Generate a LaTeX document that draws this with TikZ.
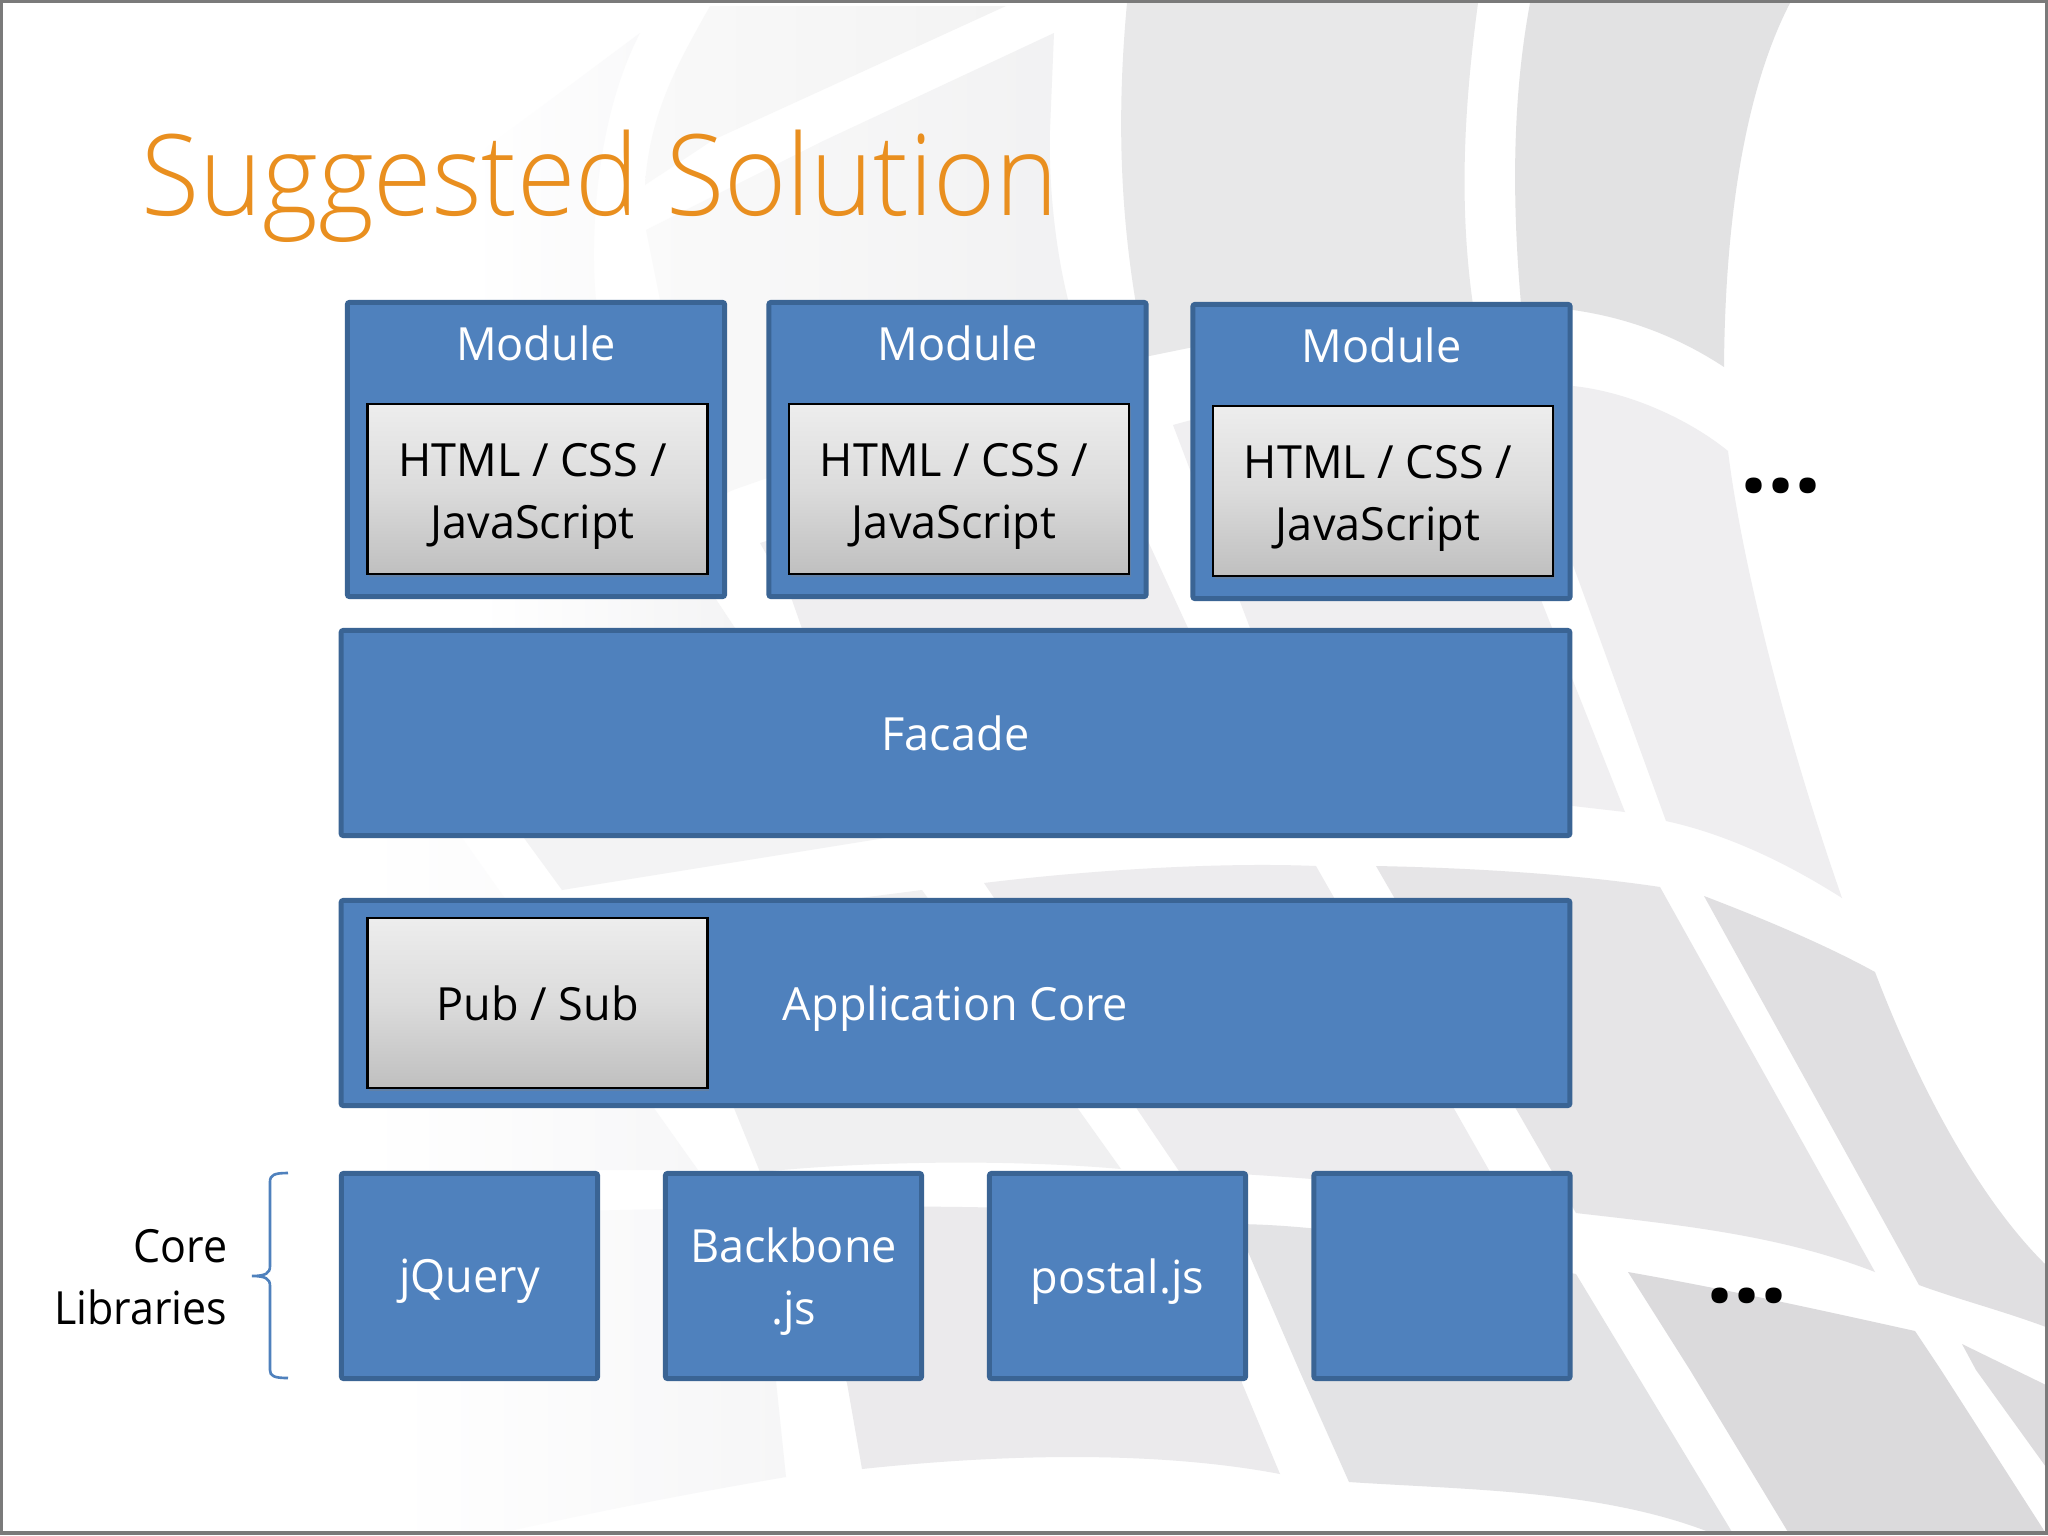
\documentclass[tikz,border=0pt]{standalone}
\usepackage{fontspec}
\setmainfont{Open Sans}
\newfontfamily\ttlfont[FakeStretch=0.945]{Open Sans Light}
\usetikzlibrary{shadows}
\definecolor{blockfill}{HTML}{4F81BD}
\definecolor{blockline}{HTML}{3A6494}
\definecolor{titleorange}{HTML}{E98F1F}
\definecolor{framegray}{HTML}{7A7A7A}
\tikzset{
  block/.style={draw=blockline,fill=blockfill,line width=1.42pt,rounded corners=0.6pt,inner sep=0pt,text=white,align=center,font=\bodyfont,text depth=0pt},
  techbox/.style={draw=black,line width=0.75pt,top color=gray!14,bottom color=gray!50,middle color=gray!28,inner sep=0pt,align=center,font=\bodyfont,
    drop shadow={shadow xshift=0.5pt,shadow yshift=-0.7pt,opacity=.35}},
  lbl/.style={inner sep=0pt,align=center,font=\bodyfont},
  sidelbl/.style={inner sep=0pt,align=right,font=\sidefont},
  dotsmark/.style={inner sep=0pt,font=\dotsfont},
  wm/.style={draw=none}
}
\newcommand\bodyfont{\addfontfeature{FakeStretch=0.985}\fontsize{13pt}{17.6pt}\selectfont}
\newcommand\sidefont{\addfontfeature{FakeStretch=0.94}\fontsize{13pt}{17.6pt}\selectfont}
\newcommand\dotsfont{\bfseries\fontsize{27pt}{27pt}\selectfont}
\begin{document}
\begin{tikzpicture}[x=0.01cm,y=-0.01cm]
\useasboundingbox (0,0) rectangle (2048,1536);
\fill[white] (0,0) rectangle (2048,1536);
% watermark, upper part
\fill[wm,fill={rgb,255:red,226;green,226;blue,227}] (1530,3) -- (1790,3) .. controls (1745,90) and (1725,220) .. (1724,367) .. controls (1680,338) and (1630,318) .. (1573,310) -- (1521,304) .. controls (1512,200) and (1512,100) .. (1530,3) -- cycle;
\fill[wm,fill={rgb,255:red,232;green,232;blue,233}] (1127,3) -- (1478,3) .. controls (1465,100) and (1458,200) .. (1473,305) .. controls (1360,315) and (1250,335) .. (1140,358) -- (1137,310) .. controls (1118,200) and (1118,100) .. (1127,3) -- cycle;
\shade[wm,left color={rgb,255:red,250;green,250;blue,250},right color={rgb,255:red,241;green,241;blue,242}] (1054,33) -- (1050,130) .. controls (1048,200) and (1060,300) .. (1090,365) -- (733,490) -- (670,520) -- (660,300) -- (646,230) -- (821,142) -- cycle;
\shade[wm,left color={rgb,255:red,249;green,249;blue,249},right color={rgb,255:red,243;green,243;blue,243}] (710,6) -- (1006,6) -- (713,140) -- (645,185) .. controls (650,110) and (680,60) .. (710,6) -- cycle;
\shade[wm,left color=white,right color={rgb,255:red,249;green,249;blue,250}] (640,33) -- (470,160) -- (480,300) -- (596,300) .. controls (590,240) and (595,120) .. (640,33) -- cycle;
\shade[wm,left color=white,right color={rgb,255:red,244;green,244;blue,245}] (480,560) -- (690,560) -- (735,628) -- (735,640) -- (480,640) -- cycle;
\fill[wm,fill={rgb,255:red,239;green,238;blue,240}] (760,543) -- (1100,437) -- (1188,628) -- (1188,640) -- (806,640) -- (792,600) -- cycle;
\fill[wm,fill={rgb,255:red,240;green,239;blue,241}] (1173,425) .. controls (1280,395) and (1400,380) .. (1515,380) -- (1541,600) -- (1625,812) -- (1573,806) -- (1250,790) -- (1250,628) -- cycle;
\fill[wm,fill={rgb,255:red,239;green,238;blue,240}] (1573,386) .. controls (1630,392) and (1690,420) .. (1728,451) .. controls (1740,550) and (1780,720) .. (1842,898) .. controls (1790,865) and (1730,835) .. (1666,821) -- (1573,565) -- cycle;
% middle row
\shade[wm,left color=white,right color={rgb,255:red,247;green,247;blue,248}] (366,838) -- (462,838) -- (698,1170) -- (366,1170) -- cycle;
\fill[wm,fill={rgb,255:red,243;green,243;blue,244}] (524,838) -- (885,838) -- (562,890) -- cycle;
\fill[wm,fill={rgb,255:red,240;green,240;blue,241}] (690,1000) -- (860,898) -- (922,890) -- (1121,1169) .. controls (1020,1160) and (880,1160) .. (760,1172) -- cycle;
\fill[wm,fill={rgb,255:red,237;green,236;blue,238}] (984,883) .. controls (1090,870) and (1220,862) .. (1316,866) -- (1506,1200) .. controls (1400,1185) and (1280,1175) .. (1179,1171) -- cycle;
\fill[wm,fill={rgb,255:red,230;green,229;blue,231}] (1376,866) .. controls (1480,868) and (1580,875) .. (1660,887) -- (1875,1272) .. controls (1780,1235) and (1680,1225) .. (1576,1213) -- cycle;
\fill[wm,fill={rgb,255:red,224;green,223;blue,225}] (1704,896) .. controls (1780,925) and (1835,950) .. (1875,972) .. controls (1920,1090) and (1980,1200) .. (2046,1265) -- (2046,1327) .. controls (2000,1310) and (1960,1300) .. (1919,1285) -- cycle;
% bottom row
\fill[wm,fill={rgb,255:red,219;green,218;blue,220}] (1628,1272) .. controls (1730,1290) and (1820,1310) .. (1915,1331) -- (1941,1370) -- (2045,1532) -- (1788,1532) -- (1690,1370) -- cycle;
\fill[wm,fill={rgb,255:red,221;green,220;blue,222}] (1962,1344) -- (2046,1385) -- (2046,1467) -- (1976,1370) -- cycle;
\fill[wm,fill={rgb,255:red,227;green,227;blue,229}] (1236,1224) .. controls (1350,1225) and (1480,1255) .. (1576,1274) -- (1732,1532) -- (1709,1532) .. controls (1600,1490) and (1470,1490) .. (1349,1482) -- (1300,1372) -- cycle;
\fill[wm,fill={rgb,255:red,235;green,234;blue,236}] (780,1208) .. controls (900,1205) and (1100,1205) .. (1236,1224) -- (1242,1383) -- (1280,1474) .. controls (1180,1455) and (1040,1450) .. (862,1469) -- (847,1383) -- cycle;
\shade[wm,left color=white,right color={rgb,255:red,246;green,246;blue,247}] (395,1215) -- (710,1208) -- (776,1381) -- (786,1477) .. controls (650,1500) and (560,1520) .. (500,1533) -- (395,1533) -- cycle;
\draw[framegray,line width=1.1pt] (1.5,1.5) rectangle (2046.5,1533);
% title
\node[inner sep=0pt,anchor=base west,text=titleorange,font=\ttlfont\fontsize{32pt}{36pt}\selectfont] (title) at (141,215) {Suggested Solution};
% modules
\foreach \n/\cx/\cy in {1/536/449.5,2/957.5/449.5,3/1381.5/451.5}{
  \node[block,minimum width=3.77cm,minimum height=2.94cm] (m\n) at (\cx,\cy) {};
  \node[lbl,anchor=base,text=white] (mt\n) at (\cx,\cy-89) {Module};
  \node[techbox,minimum width=3.40cm,minimum height=1.70cm] (in\n) at (\cx+1.5,\cy+39.5) {};
  \node[lbl,text=black] (int\n) at ([xshift=-0.05cm,yshift=-0.07cm]in\n.center) {HTML / CSS /\\JavaScript};
}
% layers
\node[block,minimum width=12.28cm,minimum height=2.05cm] (facade) at (955.5,733) {Facade};
\node[block,minimum width=12.28cm,minimum height=2.05cm] (core) at (955.5,1003) {Application Core};
\node[techbox,minimum width=3.40cm,minimum height=1.70cm] (pubsub) at (537.5,1003) {Pub / Sub};
% libraries
\node[block,minimum width=2.56cm,minimum height=2.05cm] (lib1) at (469.5,1276) {jQuery};
\node[block,minimum width=2.56cm,minimum height=2.05cm] (lib2) at (793.5,1276) {Backbone\\.js};
\node[block,minimum width=2.56cm,minimum height=2.05cm] (lib3) at (1117.5,1276) {postal.js};
\node[block,minimum width=2.56cm,minimum height=2.05cm] (lib4) at (1442,1276) {};
% brace and label
\coordinate (bracetip) at (252,1276);
\draw[blockfill,line width=0.75pt] (288,1173) .. controls (274,1173) and (270,1175) .. (270,1182) -- (270,1266) .. controls (270,1273) and (266,1276) .. (bracetip) .. controls (266,1276) and (270,1279) .. (270,1286) -- (270,1370) .. controls (270,1376) and (274,1378) .. (288,1378);
\node[sidelbl,anchor=east] (corelib) at (228,1277) {Core\\Libraries};
% ellipses
\node[dotsmark] (dotsA) at (1781,486) {...};
\node[dotsmark] (dotsB) at (1747,1296) {...};
\end{tikzpicture}
\end{document}
